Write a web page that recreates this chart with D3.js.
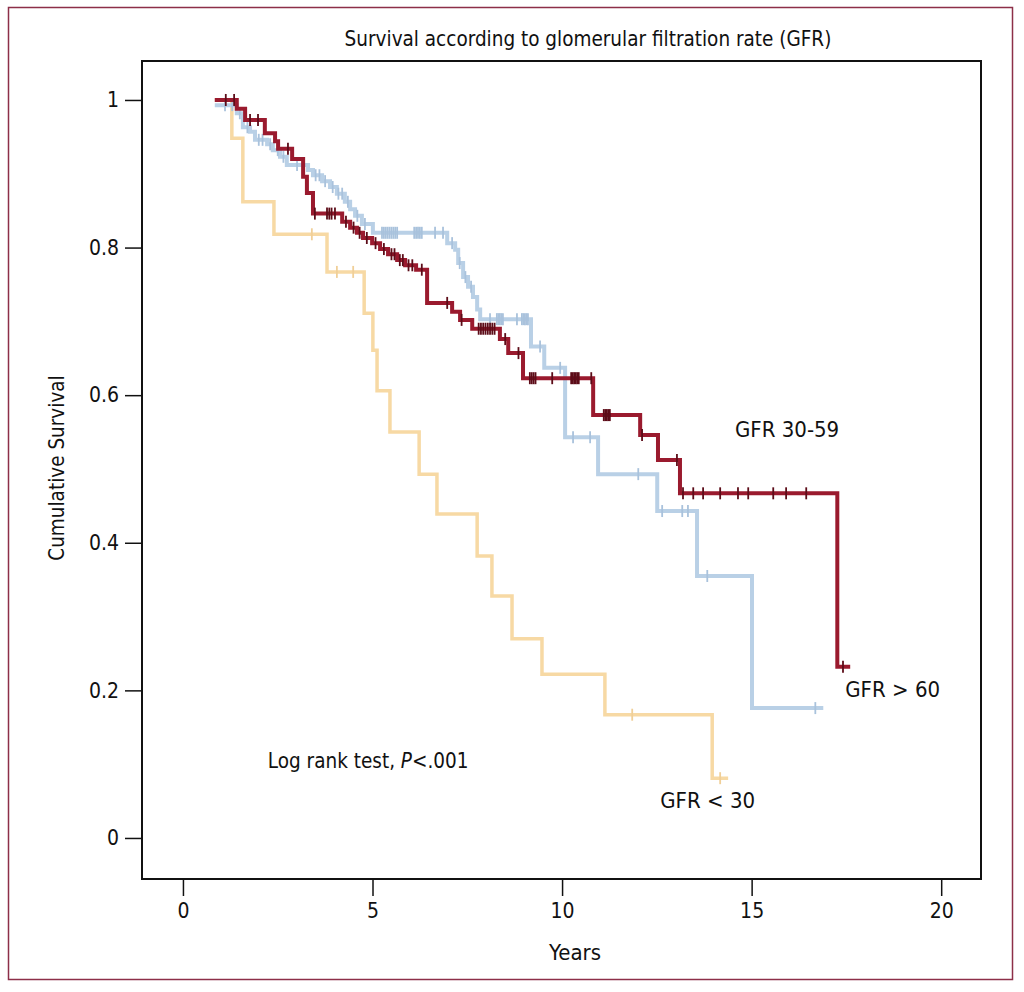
<!DOCTYPE html>
<html>
<head>
<meta charset="utf-8">
<script src="https://cdn.jsdelivr.net/npm/d3@7"></script>
<style>
  body { margin: 0; background: #fff; }
  text { font-family: "Liberation Sans Narrow", "DejaVu Sans Condensed", "Liberation Sans", sans-serif; fill: #111; }
</style>
</head>
<body>
<div id="chart"></div>
<script>
// axis ticks
const yearTicks = [0, 5, 10, 15, 20];
const survTicks = [0, 0.2, 0.4, 0.6, 0.8, 1];
const survTickLabels = ["0", "0.2", "0.4", "0.6", "0.8", "1"];

// GFR < 30 (step times in years, survival after the step)
const lowTimes = [0.84, 1.29, 1.58, 2.40, 3.80, 4.78, 5.01, 5.12, 5.46, 6.23, 6.70, 7.76, 8.15, 8.68, 9.47, 11.13, 13.96, 14.38];
const lowSurv  = [1.000, 0.948, 0.862, 0.818, 0.767, 0.711, 0.661, 0.606, 0.550, 0.493, 0.439, 0.382, 0.328, 0.270, 0.222, 0.167, 0.081, 0.081];
const lowCensor = [3.40, 4.06, 4.49, 11.85, 14.17];

// GFR 30-59
const midTimes = [0.84, 1.42, 1.64, 2.16, 2.43, 2.51, 2.88, 3.17, 3.27, 3.43, 4.20, 4.41, 4.59, 4.75, 4.99, 5.20, 5.41, 5.65, 5.86, 6.15, 6.44, 7.10, 7.31, 7.63, 8.36, 8.58, 8.97, 10.82, 12.06, 12.53, 13.11, 17.26, 17.60];
const midSurv  = [1.000, 0.988, 0.973, 0.955, 0.944, 0.934, 0.920, 0.896, 0.874, 0.846, 0.835, 0.827, 0.820, 0.813, 0.806, 0.798, 0.791, 0.783, 0.776, 0.770, 0.725, 0.713, 0.702, 0.690, 0.676, 0.657, 0.623, 0.573, 0.546, 0.512, 0.467, 0.232, 0.232];
const midCensor = [1.13, 1.35, 1.77, 1.98, 2.77, 3.48, 3.80, 3.86, 3.92, 4.01, 4.30, 4.50, 4.66, 4.85, 5.08, 5.30, 5.50, 5.58, 5.72, 5.80, 5.95, 6.05, 6.30, 6.97,
  7.35, 7.80, 7.86, 7.92, 7.98, 8.04, 8.10, 8.16, 8.22, 8.50, 8.85, 9.15, 9.20, 9.25, 9.30, 9.74, 10.24, 10.28, 10.32, 10.36, 10.40, 10.44, 10.77,
  11.10, 11.14, 11.18, 11.22, 11.26, 12.11, 13.03, 13.19, 13.46, 13.72, 14.17, 14.64, 14.91, 15.57, 15.91, 16.44, 17.41];

// GFR > 60
const highTimes = [0.84, 1.42, 1.58, 1.77, 1.90, 2.22, 2.37, 2.56, 2.74, 3.30, 3.43, 3.67, 3.88, 4.06, 4.27, 4.41, 4.54, 4.72, 5.01, 6.97, 7.18, 7.26, 7.39, 7.52, 7.65, 7.76, 7.84, 9.18, 9.53, 10.08, 10.95, 12.51, 13.56, 15.01, 16.89];
const highSurv  = [0.993, 0.982, 0.963, 0.957, 0.946, 0.940, 0.932, 0.923, 0.912, 0.905, 0.898, 0.890, 0.882, 0.873, 0.862, 0.852, 0.843, 0.832, 0.820, 0.806, 0.797, 0.779, 0.760, 0.747, 0.733, 0.716, 0.703, 0.666, 0.637, 0.543, 0.493, 0.443, 0.355, 0.176, 0.176];
const highCensor = [1.11, 1.30, 1.50, 1.70, 2.00, 2.10, 2.30, 2.50, 2.65, 3.01, 3.17, 3.50, 3.60, 3.75, 3.95, 4.10, 4.20, 4.35, 4.60, 4.80,
  5.25, 5.30, 5.35, 5.40, 5.45, 5.50, 5.55, 5.60, 5.65, 6.10, 6.15, 6.20, 6.25, 6.30, 6.65, 6.86, 7.10, 7.30, 7.45, 7.60,
  8.10, 8.28, 8.32, 8.36, 8.40, 8.44, 8.81, 8.94, 8.98, 9.02, 9.06, 9.10, 9.42, 9.95, 10.29, 10.74, 12.01, 12.64, 13.17, 13.32, 13.83, 16.68];

const groups = [
  { name: "GFR < 30",  times: lowTimes,  surv: lowSurv,  censor: lowCensor,  color: "#f7d9a4", mark: "#f0cf98", width: 3.5 },
  { name: "GFR > 60",  times: highTimes, surv: highSurv, censor: highCensor, color: "#b9d0e6", mark: "#a9c2dc", width: 4 },
  { name: "GFR 30-59", times: midTimes,  surv: midSurv,  censor: midCensor,  color: "#9a1a2e", mark: "#5c0c18", width: 4 }
];

// curve labels: [text, year, survival]
const curveLabels = [
  ["GFR 30-59", 14.56, 0.543],
  ["GFR > 60", 17.47, 0.191],
  ["GFR < 30", 12.59, 0.041]
];

const width = 1024, height = 992;
const svg = d3.select("#chart").append("svg")
    .attr("width", width)
    .attr("height", height);

// outer frame
svg.append("rect")
    .attr("x", 8.5).attr("y", 7.5)
    .attr("width", 1004).attr("height", 972)
    .attr("fill", "none")
    .attr("stroke", "#8d2f48")
    .attr("stroke-width", 1.5);

const x = d3.scaleLinear().domain([-1.08, 21.05]).range([142, 981]);
const y = d3.scaleLinear().domain([-0.0556, 1.0528]).range([879, 61]);

// plot box
svg.append("rect")
    .attr("x", x.range()[0]).attr("y", y.range()[1])
    .attr("width", x.range()[1] - x.range()[0])
    .attr("height", y.range()[0] - y.range()[1])
    .attr("fill", "none")
    .attr("stroke", "#111")
    .attr("stroke-width", 2);

// axes
const xAxis = svg.append("g")
    .attr("transform", `translate(0,${y.range()[0]})`)
    .call(d3.axisBottom(x).tickValues(yearTicks).tickSize(17).tickPadding(7).tickFormat(d3.format("d")));
const yAxis = svg.append("g")
    .attr("transform", `translate(${x.range()[0]},0)`)
    .call(d3.axisLeft(y).tickValues(survTicks).tickSize(17).tickPadding(6).tickFormat((d, i) => survTickLabels[i]));
[xAxis, yAxis].forEach(g => {
    g.select(".domain").remove();
    g.selectAll(".tick line").attr("stroke", "#111").attr("stroke-width", 1.5);
    g.selectAll(".tick text").attr("font-size", 21).attr("fill", "#111")
        .style("font-family", "'Liberation Sans Narrow', 'DejaVu Sans Condensed', sans-serif");
});

// curves
const line = d3.line()
    .x(d => x(d[0]))
    .y(d => y(d[1]))
    .curve(d3.curveStepAfter);

groups.forEach(g => {
    const pts = g.times.map((t, i) => [t, g.surv[i]]);
    svg.append("path")
        .datum(pts)
        .attr("fill", "none")
        .attr("stroke", g.color)
        .attr("stroke-width", g.width)
        .attr("d", line);

    // censoring ticks sit on the curve value at that time
    const survAt = t => g.surv[Math.max(0, d3.bisectRight(g.times, t) - 1)];
    svg.append("g")
        .selectAll("line")
        .data(g.censor)
        .join("line")
        .attr("x1", d => x(d)).attr("x2", d => x(d))
        .attr("y1", d => y(survAt(d)) - 6)
        .attr("y2", d => y(survAt(d)) + 6)
        .attr("stroke", g.mark)
        .attr("stroke-width", 1.8);
});

// title
svg.append("text")
    .attr("x", 588).attr("y", 46)
    .attr("text-anchor", "middle")
    .attr("font-size", 20.5)
    .text("Survival according to glomerular filtration rate (GFR)");

// axis titles
svg.append("text")
    .attr("x", 575).attr("y", 960)
    .attr("text-anchor", "middle")
    .attr("font-size", 22)
    .text("Years");
svg.append("text")
    .attr("transform", "translate(64,468) rotate(-90)")
    .attr("text-anchor", "middle")
    .attr("font-size", 20.5)
    .text("Cumulative Survival");

// curve labels
svg.append("g")
    .selectAll("text")
    .data(curveLabels)
    .join("text")
    .attr("x", d => x(d[1]))
    .attr("y", d => y(d[2]))
    .attr("font-size", 22)
    .text(d => d[0]);

// log rank annotation
const lr = svg.append("text")
    .attr("x", x(2.24)).attr("y", y(0.095))
    .attr("font-size", 20.5);
lr.append("tspan").text("Log rank test, ");
lr.append("tspan").attr("font-style", "italic").text("P");
lr.append("tspan").text("<.001");
</script>
</body>
</html>
